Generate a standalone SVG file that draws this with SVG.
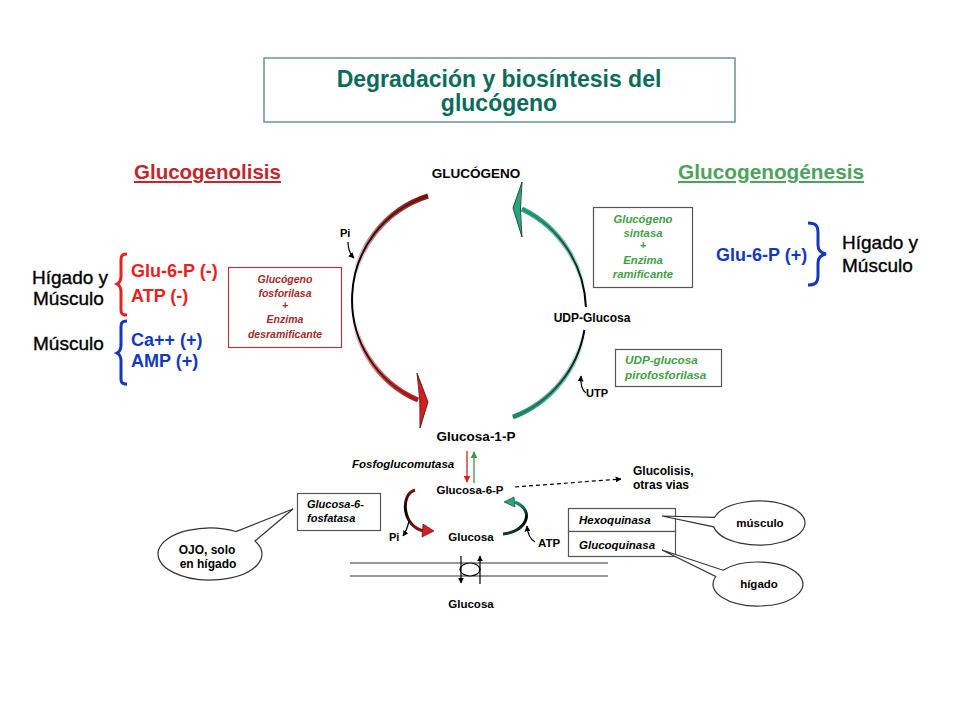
<svg xmlns="http://www.w3.org/2000/svg" width="960" height="720" viewBox="0 0 960 720">
<style>
text{font-family:"Liberation Sans",Arial,sans-serif}
.b{font-weight:bold}
.bi{font-weight:bold;font-style:italic}
.box{fill:#fff;stroke:#555;stroke-width:1.2}
.ln{fill:none;stroke:#000;stroke-width:1.2}
.call{fill:#fff;stroke:#333;stroke-width:1.2}
.red{fill:#e8211f}
.blue{fill:#1338be}
.gtx{fill:#3f9f45}
.rtx{fill:#a52a2a}
</style>
<defs>
<marker id="ab" viewBox="0 0 10 10" refX="9" refY="5" markerWidth="6" markerHeight="6" markerUnits="userSpaceOnUse" orient="auto"><path d="M0,0L10,5L0,10Z" fill="#000"/></marker>
<marker id="ar" viewBox="0 0 10 10" refX="9" refY="5" markerWidth="7" markerHeight="7" markerUnits="userSpaceOnUse" orient="auto"><path d="M0,0L10,5L0,10Z" fill="#d42020"/></marker>
<marker id="ag" viewBox="0 0 10 10" refX="9" refY="5" markerWidth="7" markerHeight="7" markerUnits="userSpaceOnUse" orient="auto"><path d="M0,0L10,5L0,10Z" fill="#3a9a3a"/></marker>
<linearGradient id="gL" gradientUnits="userSpaceOnUse" x1="0" y1="196" x2="0" y2="400">
<stop offset="0" stop-color="#7d1212" stop-opacity="1"/>
<stop offset="0.4" stop-color="#6a1010" stop-opacity="0"/>
<stop offset="0.6" stop-color="#8e1515" stop-opacity="0"/>
<stop offset="1" stop-color="#b01818" stop-opacity="1"/>
</linearGradient>
<linearGradient id="gR" gradientUnits="userSpaceOnUse" x1="0" y1="209" x2="0" y2="417">
<stop offset="0" stop-color="#1f9a78" stop-opacity="1"/>
<stop offset="0.4" stop-color="#1f9a78" stop-opacity="0"/>
<stop offset="0.6" stop-color="#1a8a6c" stop-opacity="0"/>
<stop offset="1" stop-color="#1a8a6c" stop-opacity="1"/>
</linearGradient>
<linearGradient id="gsL" gradientUnits="userSpaceOnUse" x1="0" y1="490" x2="0" y2="532">
<stop offset="0" stop-color="#7d1212"/>
<stop offset="0.5" stop-color="#000"/>
<stop offset="1" stop-color="#a01818"/>
</linearGradient>
<linearGradient id="gsR" gradientUnits="userSpaceOnUse" x1="0" y1="502" x2="0" y2="534">
<stop offset="0" stop-color="#1f9a78"/>
<stop offset="0.5" stop-color="#000"/>
<stop offset="1" stop-color="#0f3a30"/>
</linearGradient>
</defs>
<rect width="960" height="720" fill="#fff"/>

<g id="title">
<rect x="264" y="58" width="471" height="64" fill="#fff" stroke="#6a9490" stroke-width="1.5"/>
<text x="499" y="87" font-size="23" class="b" fill="#0b6b5b" text-anchor="middle">Degradación y biosíntesis del</text>
<text x="499" y="111" font-size="23" class="b" fill="#0b6b5b" text-anchor="middle">glucógeno</text>
</g>

<g id="heading-glucogenolisis">
<text x="134" y="179" font-size="20.5" class="b" fill="#c1272d" text-decoration="underline">Glucogenolisis</text>
</g>
<g id="heading-glucogenogenesis">
<text x="678" y="179" font-size="20.8" class="b" fill="#4ea25e" text-decoration="underline">Glucogenogénesis</text>
</g>

<g id="glucogeno"><text x="476" y="178" font-size="13.5" class="b" text-anchor="middle">GLUCÓGENO</text></g>
<g id="glucosa1p"><text x="476" y="441" font-size="13.5" class="b" text-anchor="middle">Glucosa-1-P</text></g>
<g id="udpglucosa"><text x="592" y="322" font-size="12" class="b" text-anchor="middle">UDP-Glucosa</text></g>
<g id="glucosa6p"><text x="470" y="494" font-size="11.5" class="b" text-anchor="middle">Glucosa-6-P</text></g>
<g id="glucosa"><text x="471" y="541" font-size="11.5" class="b" text-anchor="middle">Glucosa</text></g>
<g id="glucosa-ext"><text x="471" y="608" font-size="11.5" class="b" text-anchor="middle">Glucosa</text></g>
<g id="glucolisis">
<text x="633" y="475" font-size="12" class="b">Glucolisis,</text>
<text x="633" y="489" font-size="12" class="b">otras vias</text>
</g>
<g id="fosfoglucomutasa"><text x="352" y="468" font-size="11.5" class="bi">Fosfoglucomutasa</text></g>
<g id="pi-top"><text x="340" y="237" font-size="11" class="b">Pi</text></g>
<g id="utp"><text x="586" y="397" font-size="11" class="b">UTP</text></g>
<g id="pi-bottom"><text x="389" y="541" font-size="11" class="b">Pi</text></g>
<g id="atp"><text x="538" y="547" font-size="11.5" class="b">ATP</text></g>

<g id="enz-fosforilasa">
<rect x="228.5" y="267.5" width="113" height="80" fill="#fff" stroke="#b03a3a" stroke-width="1.2"/>
<g font-size="10.5" class="bi rtx" text-anchor="middle">
<text x="285" y="283">Glucógeno</text>
<text x="285" y="297">fosforilasa</text>
<text x="285" y="309">+</text>
<text x="285" y="323">Enzima</text>
<text x="285" y="338">desramificante</text>
</g>
</g>

<g id="enz-sintasa">
<rect x="593.5" y="207.5" width="99" height="80" class="box"/>
<g font-size="11.3" class="bi gtx" text-anchor="middle">
<text x="643" y="223">Glucógeno</text>
<text x="643" y="237">sintasa</text>
<text x="643" y="249">+</text>
<text x="643" y="264">Enzima</text>
<text x="643" y="278">ramificante</text>
</g>
</g>

<g id="enz-udpgp">
<rect x="615.5" y="349.5" width="106" height="37" class="box"/>
<text x="625" y="364" font-size="11.7" class="bi gtx">UDP-glucosa</text>
<text x="625" y="379" font-size="11.7" class="bi gtx">pirofosforilasa</text>
</g>

<g id="enz-g6pasa">
<rect x="297.5" y="493.5" width="83" height="37" class="box"/>
<text x="307" y="508" font-size="11" class="bi">Glucosa-6-</text>
<text x="307" y="522" font-size="11" class="bi">fosfatasa</text>
</g>

<g id="enz-hexoquinasa">
<rect x="568.5" y="508.5" width="107" height="23" class="box"/>
<text x="579" y="524" font-size="11.5" class="bi">Hexoquinasa</text>
</g>
<g id="enz-glucoquinasa">
<rect x="568.5" y="531.5" width="107" height="25" class="box"/>
<text x="579" y="549" font-size="11.5" class="bi">Glucoquinasa</text>
</g>

<g id="callout-ojo">
<path class="call" d="M236,531.5 A52 26 0 1 0 255,541 L293,509 Z"/>
<text x="207" y="554" font-size="12" class="b" text-anchor="middle">OJO, solo</text>
<text x="208" y="568" font-size="12" class="b" text-anchor="middle">en hígado</text>
</g>
<g id="callout-musculo">
<path class="call" d="M714.6,517.3 A46 22 0 1 1 713.7,526.8 L662,516 Z"/>
<text x="760" y="527" font-size="11.5" class="b" text-anchor="middle">músculo</text>
</g>
<g id="callout-higado">
<path class="call" d="M723,570.2 A45 22 0 1 1 715.7,576.5 L662,550 Z"/>
<text x="759" y="588" font-size="11.5" class="b" text-anchor="middle">hígado</text>
</g>

<g id="reg-left-red">
<text x="32" y="284" font-size="19" stroke="#000" stroke-width="0.35">Hígado y</text>
<text x="33" y="305" font-size="19" stroke="#000" stroke-width="0.35">Músculo</text>
<path d="M127,254 C120,254 121,258 121,265 L121,276 C121,281 119,283 117,284 C119,285 121,287 121,292 L121,305 C121,312 120,315 127,315" fill="none" stroke="#e8211f" stroke-width="3"/>
<text x="131" y="277" font-size="18" class="b red">Glu-6-P (-)</text>
<text x="131" y="302" font-size="18" class="b red">ATP (-)</text>
</g>
<g id="reg-left-blue">
<text x="33" y="350" font-size="19" stroke="#000" stroke-width="0.35">Músculo</text>
<path d="M127,321 C120,321 121,325 121,332 L121,345 C121,350 119,352 117,353 C119,354 121,356 121,361 L121,374 C121,381 120,384 127,384" fill="none" stroke="#1338be" stroke-width="3"/>
<text x="131" y="346" font-size="18" class="b blue">Ca++ (+)</text>
<text x="131" y="367" font-size="18" class="b blue">AMP (+)</text>
</g>
<g id="reg-right-blue">
<text x="716" y="261" font-size="18" class="b blue">Glu-6-P (+)</text>
<path d="M808,223 C816,223 818,226 818,233 L818,245 C818,250 821,253 826,254 C821,255 818,258 818,263 L818,275 C818,282 816,285 808,285" fill="none" stroke="#1338be" stroke-width="3"/>
<text x="842" y="249" font-size="19" stroke="#000" stroke-width="0.35">Hígado y</text>
<text x="842" y="272" font-size="19" stroke="#000" stroke-width="0.35">Músculo</text>
</g>

<g id="connectors">
<!-- big left arc: glucogenolisis -->
<path d="M428,196 A109 109 0 0 0 418,400" fill="none" stroke="#000" stroke-width="2"/>
<path d="M428,196 A109 109 0 0 0 418,400" fill="none" stroke="url(#gL)" stroke-width="5"/>
<path d="M417,373 Q421,400 420,428 L428,402 Z" fill="#d41f1f" stroke="#3a0a0a" stroke-width="0.8"/>
<!-- big right arc: glucogenogenesis -->
<path d="M513,417 A113.4 113.4 0 0 0 584.4,330" fill="none" stroke="#000" stroke-width="2"/>
<path d="M513,417 A113.4 113.4 0 0 0 584.4,330" fill="none" stroke="url(#gR)" stroke-width="5"/>
<path d="M585.9,307 A113.4 113.4 0 0 0 522,209" fill="none" stroke="#000" stroke-width="2"/>
<path d="M585.9,307 A113.4 113.4 0 0 0 522,209" fill="none" stroke="url(#gR)" stroke-width="5"/>
<path d="M522,182 Q519,209 522,237 L513,208 Z" fill="#2aa57c" stroke="#0a2a20" stroke-width="0.8"/>
<!-- Pi / UTP small arrows -->
<path d="M348,242 Q348,252 354,258" class="ln" marker-end="url(#ab)"/>
<path d="M586,393 Q580,389 581,376" class="ln" marker-end="url(#ab)"/>
<!-- fosfoglucomutasa -->
<line x1="467" y1="451" x2="467" y2="482" stroke="#d42020" stroke-width="1.3" marker-end="url(#ar)"/>
<line x1="474" y1="483" x2="474" y2="452" stroke="#3a9a3a" stroke-width="1.3" marker-end="url(#ag)"/>
<!-- dashed to glucolisis -->
<path d="M515,487 L621,479" fill="none" stroke="#000" stroke-width="1.2" stroke-dasharray="4 3" marker-end="url(#ab)"/>
<!-- small cycle -->
<path d="M415,490 C400,494 402,527 424,531" fill="none" stroke="url(#gsL)" stroke-width="3"/>
<path d="M423,524 L434,531 L422,537 Z" fill="#d41f1f" stroke="#3a0a0a" stroke-width="0.6"/>
<path d="M409,521 Q407,530 403,536" class="ln" marker-end="url(#ab)"/>
<path d="M503,534 C526,532 536,511 515,502" fill="none" stroke="url(#gsR)" stroke-width="3"/>
<path d="M504,502 L514,497 L515,507 Z" fill="#2aa57c" stroke="#0a2a20" stroke-width="0.6"/>
<path d="M535,542 Q528,538 527,526" class="ln" marker-end="url(#ab)"/>
<!-- membrane and transporter -->
<line x1="350" y1="563" x2="608" y2="563" stroke="#333" stroke-width="1.2"/>
<line x1="350" y1="576" x2="608" y2="576" stroke="#333" stroke-width="1.2"/>
<ellipse cx="470" cy="569.5" rx="10" ry="6.5" fill="#fff" stroke="#000" stroke-width="1.2"/>
<line x1="461" y1="556" x2="461" y2="583" class="ln" marker-end="url(#ab)"/>
<line x1="480" y1="584" x2="480" y2="556" class="ln" marker-end="url(#ab)"/>
</g>
</svg>
